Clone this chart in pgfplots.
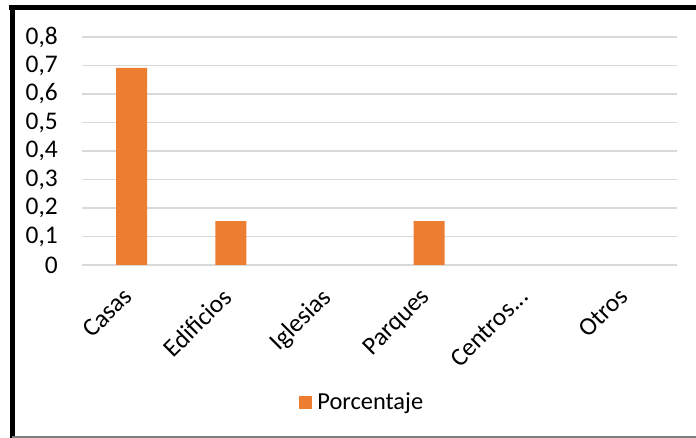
\documentclass[border=0pt]{standalone}
\usepackage{fontspec}
\setmainfont{Carlito}
\usepackage{pgfplots}
\pgfplotsset{compat=1.18}
\definecolor{barc}{HTML}{ED7D31}
\definecolor{gridc}{HTML}{D9D9D9}
\begin{document}
\begin{tikzpicture}[x=1bp,y=1bp]
\useasboundingbox (0,0) rectangle (696,438);
\begin{axis}[
  at={(82bp,173bp)}, anchor=south west, scale only axis,
  width=595bp, height=228bp,
  xmin=-0.5, xmax=5.5, ymin=0, ymax=0.8,
  ytick={0,0.1,0.2,0.3,0.4,0.5,0.6,0.7,0.8},
  ymajorgrids, major grid style={draw=gridc, line width=1.3bp},
  axis line style={draw=none}, tick style={draw=none},
  xtick={0,1,2,3,4,5},
  xticklabels={Casas,Edificios,Iglesias,Parques,{Centros.\kern0pt.\kern0pt.},Otros},
  xticklabel style={rotate=45, anchor=north east, inner sep=0pt, xshift=-19bp, yshift=-5bp, font=\fontsize{25.5}{30}\selectfont},
  yticklabel style={anchor=east, inner sep=0pt, xshift=-24bp, font=\fontsize{25.5}{30}\selectfont},
  /pgf/number format/.cd, use comma, fixed, precision=1, assume math mode=true,
  /pgfplots/.cd,
  ybar, bar width=31bp,
  legend style={at={(0.365,-0.601)}, anchor=west, draw=none, fill=none, inner sep=0pt,
    font=\fontsize{24.5}{28}\selectfont},
  legend cell align=left,
  legend image code/.code={\fill[barc] (0bp,-6.5bp) rectangle (13bp,6.5bp);},
]
\addplot[fill=barc, draw=none, unbounded coords=discard, y filter/.expression={y==0 ? nan : y}]
  coordinates {(0,0.692) (1,0.154) (2,0) (3,0.154) (4,0) (5,0)};
\addlegendentry{\hspace{3bp}Porcentaje}
\end{axis}
\draw[line width=5bp] (9,430.7) -- (696,430.7);
\draw[line width=5bp] (12,433) -- (12,0);
\draw[draw=gray, line width=1.5bp] (12,1) -- (696,1);
\end{tikzpicture}
\end{document}
